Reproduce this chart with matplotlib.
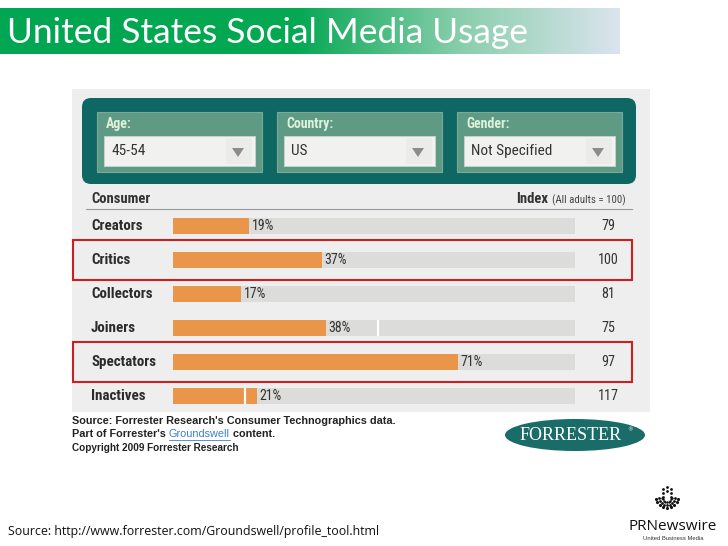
import matplotlib
matplotlib.use("Agg")
import matplotlib.pyplot as plt
import numpy as np
from matplotlib.patches import Rectangle, FancyBboxPatch, Ellipse, Polygon
from matplotlib.colors import LinearSegmentedColormap
import matplotlib.transforms as mtrans

# ---- data ----
categories = ["Creators", "Critics", "Collectors", "Joiners", "Spectators", "Inactives"]
percent = [19, 37, 17, 38, 71, 21]
index_values = [79, 100, 81, 75, 97, 117]
marker_values = [None, None, None, 51, None, 18]
highlighted = ["Critics", "Spectators"]
filter_labels = ["Age:", "Country:", "Gender:"]
filter_values = ["45-54", "US", "Not Specified"]

NARROW = ["Roboto Condensed", "DejaVu Sans"]
SANS = ["Liberation Sans", "DejaVu Sans"]
ST = "condensed"

W, H = 728, 546
fig = plt.figure(figsize=(W / 100, H / 100), dpi=100)
fig.patch.set_facecolor("white")

bg = fig.add_axes([0, 0, 1, 1])
bg.set_xlim(0, W)
bg.set_ylim(H, 0)
bg.axis("off")

# ---- title banner with gradient ----
cmap = LinearSegmentedColormap.from_list(
    "banner", [(0.0, "#00a651"), (0.48, "#05a853"), (0.75, "#8ccfae"), (1.0, "#dbe4ee")])
grad = np.linspace(0, 1, 256).reshape(1, -1)
bg.imshow(grad, cmap=cmap, extent=(0, 620, 54, 8), aspect="auto", zorder=1)
bg.text(7, 33, "United States Social Media Usage", color="white", fontsize=25.5,
        family=["Lato", "DejaVu Sans"], va="center", ha="left", zorder=3)

# ---- screenshot background ----
bg.add_patch(Rectangle((72, 89), 578, 323, facecolor="#eeeeee", edgecolor="none", zorder=1))

# teal panel
bg.add_patch(FancyBboxPatch((82, 98), 554, 86, boxstyle="round,pad=0,rounding_size=9",
                            facecolor="#0f6763", edgecolor="none", zorder=2))
box_x = [97, 277, 457]
box_w = 165
for bx, lab, val in zip(box_x, filter_labels, filter_values):
    bg.add_patch(Rectangle((bx, 112), box_w, 60, facecolor="#5f9a85", edgecolor="#7aab98",
                           lw=0.8, zorder=3))
    bg.add_patch(Rectangle((bx + 7, 136), box_w - 14, 30, facecolor="#f1f1f0",
                           edgecolor="#c9d3cf", lw=0.6, zorder=4))
    bg.add_patch(Rectangle((bx + box_w - 36, 138), 26, 26, facecolor="#ebebea",
                           edgecolor="none", zorder=4))
    bg.text(bx + 9, 124, lab, color="#dff2dc", fontsize=10, family=NARROW, fontstretch=ST,
            fontweight="bold", va="center", ha="left", zorder=5)
    bg.text(bx + 14, 151, val, color="#333333", fontsize=11, family=NARROW, fontstretch=ST,
            va="center", ha="left", zorder=5)
    ax0 = bx + box_w - 24
    bg.add_patch(Polygon([(ax0 - 6, 148), (ax0 + 6, 148), (ax0, 157)], closed=True,
                         facecolor="#8c8c8c", edgecolor="none", zorder=5))

# header
bg.text(91, 199, "Consumer", fontsize=10.5, family=NARROW, fontstretch=ST, fontweight="bold",
        color="#333333", va="center", ha="left", zorder=5)
bg.text(548, 199, "Index", fontsize=10.5, family=NARROW, fontstretch=ST, fontweight="bold",
        color="#333333", va="center", ha="right", zorder=5)
bg.text(552, 200, "(All adults = 100)", fontsize=7.8, family=NARROW, fontstretch=ST,
        color="#444444", va="center", ha="left", zorder=5)
bg.plot([86, 632], [209, 209], color="#9a9a9a", lw=0.8, zorder=5)

# ---- bar axes ----
left_px, right_px, top_px, bot_px = 173, 575, 209, 413
ax = fig.add_axes([left_px / W, 1 - bot_px / H, (right_px - left_px) / W, (bot_px - top_px) / H])
ax.set_facecolor("none")
ax.set_xlim(0, 100)
ax.set_ylim(len(categories) - 0.5, -0.5)
ax.axis("off")

ypos = np.arange(len(categories))
ax.barh(ypos, [100] * len(categories), height=0.48, color="#dcdcda", zorder=1)
ax.barh(ypos, percent, height=0.48, color="#e9964a", zorder=2)
for i, m in enumerate(marker_values):
    if m is not None:
        ax.vlines(m, i - 0.24, i + 0.24, color="white", lw=1.6, zorder=3)
for i, v in enumerate(percent):
    ax.text(v + 0.6, i, f"{v}%", fontsize=10, family=NARROW, fontstretch=ST, color="#333333",
            va="center", ha="left", zorder=4)

tr = mtrans.blended_transform_factory(bg.transData, ax.transData)
for i, (c, idx) in enumerate(zip(categories, index_values)):
    ax.text(91, i, c, transform=tr, fontsize=10.8, family=NARROW, fontstretch=ST,
            fontweight="bold", color="#2b2b2b", va="center", ha="left", clip_on=False)
    ax.text(608, i, str(idx), transform=tr, fontsize=10.2, family=NARROW, fontstretch=ST,
            color="#333333", va="center", ha="center", clip_on=False)

# red highlight boxes
for c in highlighted:
    i = categories.index(c)
    ax.add_patch(Rectangle((73, i - 0.58), 559, 1.16, transform=tr, facecolor="none",
                           edgecolor="#cc1f1f", lw=1.5, clip_on=False, zorder=6))

# ---- source lines under screenshot ----
FS = 7.8
bg.text(72, 421, "Source: Forrester Research's Consumer Technographics data.", fontsize=FS,
        family=SANS, fontweight="bold", color="#222222", va="center", ha="left")
t1 = bg.text(72, 434, "Part of Forrester's ", fontsize=FS, family=SANS, fontweight="bold",
             color="#222222", va="center", ha="left")
fig.canvas.draw()
r = fig.canvas.get_renderer()
inv = bg.transData.inverted()
e1 = t1.get_window_extent(r)
x2 = inv.transform((e1.x1, 0))[0]
t2 = bg.text(x2, 434, "Groundswell", fontsize=FS, family=SANS, color="#3a7fd0",
             va="center", ha="left")
e2 = t2.get_window_extent(r)
x3 = inv.transform((e2.x1, 0))[0]
bg.plot([x2, x3], [439.5, 439.5], color="#3a7fd0", lw=0.6)
bg.text(x3, 434, " content.", fontsize=FS, family=SANS, fontweight="bold",
        color="#222222", va="center", ha="left")
bg.text(72, 448, "Copyright 2009 Forrester Research", fontsize=7.2, family=SANS,
        fontweight="bold", color="#222222", va="center", ha="left")

# Forrester logo
bg.add_patch(Ellipse((575, 435), 140, 32, facecolor="#1a6c68", edgecolor="none", zorder=3))
bg.text(571, 435, "FORRESTER", fontsize=13, family=["Liberation Serif", "DejaVu Serif"],
        color="white", va="center", ha="center", zorder=4)
bg.text(630, 430, "®", fontsize=4, color="white", va="center", ha="center", zorder=4)

# ---- bottom source ----
bg.text(8, 531, "Source: http://www.forrester.com/Groundswell/profile_tool.html", fontsize=8.9,
        family=["Open Sans", "DejaVu Sans"], color="#111111", va="center", ha="left")

# PR Newswire logo
cx, cy = 667, 499
ang = np.linspace(np.pi * 0.05, np.pi * 0.95, 9)
for rr, s in [(11, 5), (8, 4), (5, 3)]:
    bg.scatter(cx + rr * np.cos(ang), cy + rr * np.sin(ang) - 2, s=s, color="#111111",
               linewidths=0, zorder=5)
bg.scatter([cx - 4, cx - 4, cx - 4, cx + 4, cx + 4, cx + 4, cx, cx],
           [cy - 10, cy - 6, cy - 2, cy - 10, cy - 6, cy - 2, cy - 12, cy - 8],
           s=4, color="#111111", linewidths=0, zorder=5)
bg.text(673, 527, "PRNewswire", fontsize=11, family=["Open Sans", "DejaVu Sans"],
        color="#111111", va="center", ha="center")
bg.text(673, 539, "United Business Media", fontsize=4.2, family=SANS,
        color="#333333", va="center", ha="center")

fig.savefig("out.png", dpi=100, facecolor="white")
